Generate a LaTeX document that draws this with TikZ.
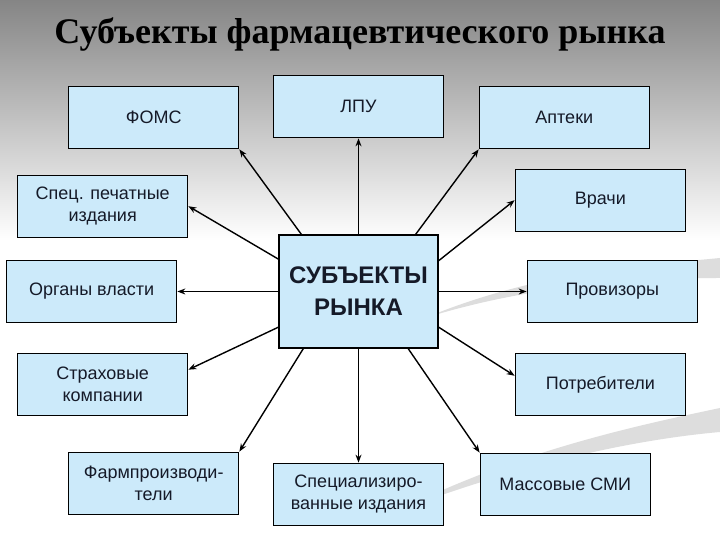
\documentclass[tikz,border=0pt]{standalone}
\usepackage{fontspec}
\setmainfont{Liberation Serif}
\setsansfont{Liberation Sans}
\usepackage{xcolor}
\usepackage{tikz}
\usetikzlibrary{
arrows.meta,
positioning
}
\definecolor{boxfill}{HTML}{CCEAFA}
\definecolor{textdark}{HTML}{151A28}
\definecolor{topgray}{HTML}{858585}
\definecolor{swoosh}{HTML}{DDDDDD}

\begin{document}
\begin{tikzpicture}[
x=1pt, y=1pt,
box/.style={
rectangle,
draw=black,
line width=1.3pt,
fill=boxfill,
minimum width=170pt,
minimum height=62pt,
align=center,
text=textdark,
font=\sffamily\fontsize{18}{22}\selectfont
},
hub/.style={
box,
minimum width=159pt,
minimum height=113pt,
font=\sffamily\bfseries\fontsize{24}{32}\selectfont
},
link/.style={-{Stealth[length=8pt,width=6pt]}, line width=1.4pt}
]

% background
\useasboundingbox (0,0) rectangle (720,540);
\fill[white] (0,0) rectangle (720,540);
\shade[top color=topgray, bottom color=white] (0,300) rectangle (720,540);
\fill[swoosh] (425,222) .. controls (540,270) and (650,275) .. (720,282)
  -- (720,262) .. controls (640,262) and (530,255) .. (425,222) -- cycle;
\fill[swoosh] (400,30) .. controls (520,90) and (640,115) .. (720,132)
  -- (720,108) .. controls (630,100) and (520,75) .. (400,30) -- cycle;

\node[font=\bfseries\fontsize{36}{40}\selectfont, text=black] (title) at (360,505)
{Субъекты фармацевтического рынка};

\node[hub] (center) at (358.5,248.5) {СУБЪЕКТЫ\\РЫНКА};

\node[box, above=96pt of center] (lpu) {ЛПУ};
\node[box, below=114pt of center] (specizd) {Специализиро-\\ванные издания};
\node[box, left=101pt of center] (organy) {Органы власти};
\node[box, right=88pt of center] (proviz) {Провизоры};
\node[box, above left=85pt and 39pt of center] (foms) {ФОМС};
\node[box, above right=85pt and 40pt of center] (apteki) {Аптеки};
\node[box, below left=103pt and 39pt of center] (farm) {Фармпроизводи-\\тели};
\node[box, below right=104pt and 41pt of center] (smi) {Массовые СМИ};
\node[box, above=22pt of organy, xshift=11pt] (spec) {Спец. печатные\\издания};
\node[box, below=30pt of organy, xshift=11pt] (strah) {Страховые\\компании};
\node[box, above=28pt of proviz, xshift=-12pt] (vrachi) {Врачи};
\node[box, below=30pt of proviz, xshift=-12pt] (potreb) {Потребители};

\draw[link] (center.north) -- (lpu.south);
\draw[link] (center.135) -- (foms.south east);
\draw[link] (center.45) -- (apteki.south west);
\draw[link] (center.158) -- (spec.east);
\draw[link] (center.21) -- (vrachi.west);
\draw[link] (center.west) -- (organy.east);
\draw[link] (center.east) -- (proviz.west);
\draw[link] (center.204) -- (strah.10);
\draw[link] (center.336) -- (potreb.174);
\draw[link] (center.226) -- (farm.north east);
\draw[link] (center.south) -- (specizd.north);
\draw[link] (center.311) -- (smi.north west);

\end{tikzpicture}
\end{document}
